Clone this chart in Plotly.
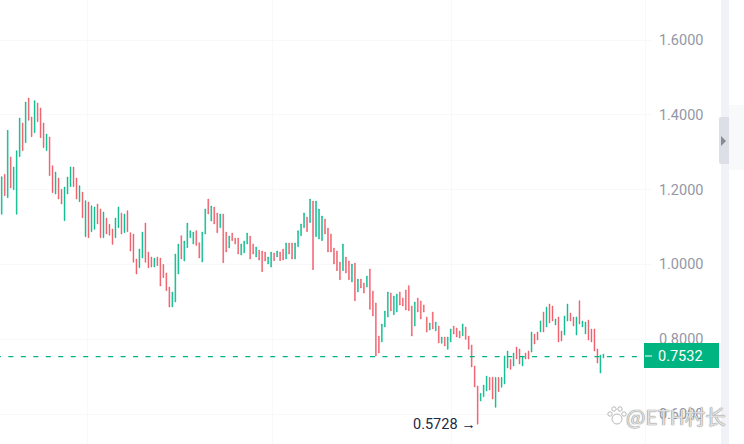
import plotly.graph_objects as go

WIDTH = 744
HEIGHT = 444
PLOT_RIGHT = 645

GREEN = "#02B98A"
RED = "#EE5764"
GRID = "#F8F8FA"
TICK_TEXT = "#9398A6"

highs = [
    1.2346, 1.2408, 1.3585, 1.2872, 1.2604, 1.3041, 1.3914, 1.3781, 1.4342, 1.4449,
    1.3941, 1.4378, 1.4315, 1.4182, 1.3781, 1.3487, 1.3406, 1.2640, 1.2470, 1.2310,
    1.2007, 1.2069, 1.2336, 1.2604, 1.2604, 1.2310, 1.2105, 1.1935, 1.1704, 1.1668,
    1.1570, 1.1534, 1.1615, 1.1481, 1.1401, 1.1240, 1.1071, 1.0946, 1.1240, 1.1534,
    1.1374, 1.1347, 1.1436, 1.0848, 1.0813, 1.0144, 1.0411, 1.0866, 1.1107, 1.0331,
    1.0198, 1.0171, 1.0198, 1.0171, 1.0001, 0.9770, 0.9395, 0.9262, 1.0278, 1.0545,
    1.0768, 1.0625, 1.1107, 1.0902, 1.0866, 1.0902, 1.0581, 1.0866, 1.1481, 1.1748,
    1.1561, 1.1534, 1.1374, 1.1347, 1.1347, 1.0866, 1.0759, 1.0839, 1.0706, 1.0706,
    1.0545, 1.0625, 1.0839, 1.0759, 1.0545, 1.0465, 1.0385, 1.0358, 1.0331, 1.0198,
    1.0331, 1.0305, 1.0358, 1.0331, 1.0411, 1.0572, 1.0572, 1.0572, 1.0572, 1.0902,
    1.1080, 1.1374, 1.1267, 1.1748, 1.1695, 1.1695, 1.1481, 1.1294, 1.1214, 1.0973,
    1.0813, 1.0438, 1.0358, 1.0064, 1.0545, 1.0198, 1.0091, 1.0010, 1.0037, 0.9609,
    0.9609, 0.9502, 0.9690, 0.9877, 0.9288, 0.8968, 0.8085, 0.8406, 0.8754, 0.9262,
    0.9235, 0.9155, 0.9208, 0.9262, 0.9102, 0.9316, 0.9431, 0.8888, 0.8995, 0.9102,
    0.9022, 0.8915, 0.8594, 0.8433, 0.8727, 0.8460, 0.8353, 0.8059, 0.8059, 0.8059,
    0.8273, 0.8353, 0.8300, 0.8219, 0.8407, 0.8326, 0.8086, 0.7845, 0.7284, 0.6749,
    0.6553, 0.6775, 0.7016, 0.6980, 0.6980, 0.6980, 0.6980, 0.6980, 0.7551, 0.7685,
    0.7462, 0.7631, 0.7792, 0.7738, 0.7551, 0.7631, 0.7685, 0.8193, 0.8139, 0.8193,
    0.8487, 0.8727, 0.8861, 0.8941, 0.8888, 0.8540, 0.8594, 0.8219, 0.8621, 0.8941,
    0.8701, 0.8594, 0.8594, 0.9030, 0.8487, 0.8460, 0.8514, 0.8273, 0.8273, 0.7738,
    0.7578, 0.7604,
]
lows = [
    1.1339, 1.1838, 1.1784, 1.2043, 1.1998, 1.1339, 1.2881, 1.3041, 1.3255, 1.3852,
    1.3415, 1.3522, 1.3816, 1.3389, 1.3121, 1.3041, 1.2372, 1.1918, 1.1882, 1.1749,
    1.1615, 1.1169, 1.1882, 1.2078, 1.2078, 1.1749, 1.1677, 1.1249, 1.0741, 1.0714,
    1.0875, 1.0937, 1.1080, 1.0714, 1.0714, 1.0813, 1.0777, 1.0536, 1.0714, 1.0982,
    1.0813, 1.0848, 1.0875, 1.0358, 1.0055, 0.9743, 0.9912, 1.0171, 1.0055, 0.9912,
    0.9930, 0.9930, 0.9966, 0.9422, 0.9645, 0.9297, 0.8861, 0.8861, 0.8994, 0.9743,
    1.0144, 1.0091, 1.0447, 1.0714, 1.0545, 1.0509, 1.0171, 1.0064, 1.0813, 1.1347,
    1.1160, 1.1080, 1.0848, 1.0982, 1.0046, 1.0331, 1.0438, 1.0634, 1.0545, 1.0278,
    1.0251, 1.0305, 1.0545, 1.0144, 1.0278, 1.0198, 1.0117, 0.9805, 1.0091, 1.0010,
    0.9930, 1.0100, 1.0198, 1.0100, 1.0117, 1.0144, 1.0278, 1.0144, 1.0144, 1.0474,
    1.0768, 1.0982, 1.0875, 1.1116, 0.9859, 1.0741, 1.0679, 1.0634, 1.0813, 1.0331,
    1.0331, 1.0010, 0.9832, 0.9591, 0.9832, 0.9770, 0.9591, 0.9529, 0.9030, 0.9262,
    0.9369, 0.9235, 0.9395, 0.8798, 0.8620, 0.7550, 0.7631, 0.7925, 0.8326, 0.8593,
    0.8754, 0.8656, 0.8727, 0.8914, 0.8888, 0.8781, 0.8763, 0.8086, 0.8353, 0.8727,
    0.8540, 0.8727, 0.8193, 0.8246, 0.8273, 0.8219, 0.7899, 0.7890, 0.7818, 0.7729,
    0.7925, 0.8139, 0.8059, 0.8032, 0.8086, 0.7997, 0.7729, 0.7257, 0.6722, 0.5728,
    0.6348, 0.6463, 0.6615, 0.6642, 0.6401, 0.6178, 0.6597, 0.6713, 0.6802, 0.7230,
    0.7194, 0.7284, 0.7471, 0.7337, 0.7284, 0.7471, 0.7471, 0.7658, 0.7872, 0.7979,
    0.8193, 0.8193, 0.8326, 0.8433, 0.8487, 0.8380, 0.7925, 0.7952, 0.8112, 0.8487,
    0.8487, 0.8353, 0.8112, 0.8407, 0.8326, 0.8139, 0.7979, 0.7925, 0.7685, 0.7364,
    0.7096, 0.7498,
]
# G = close above open, R = close below open, ten candles per row
colours = list(
    "GRGRGGGRGR"
    "RGRRRGRRGR"
    "RGGGRRGRGR"
    "GGRRGRRRGG"
    "RGRRRRGGRR"
    "RGRRRRRGGG"
    "RGGGGRRGGR"
    "GRRGRRGRRR"
    "GGGRRGRRRG"
    "GRGRRGRRGG"
    "GGRGRGGGRR"
    "RRRRGRRGRG"
    "RRGRRRRGGG"
    "RGGRRRRRGR"
    "RRRGRGRGRG"
    "GRRRGRRRRR"
    "GGGRRGRGGG"
    "RGRRGRRGRR"
    "GRGRRGRRGG"
    "RRGRGGRRRR"
    "GG"
)

last_price = 0.7532
low_price = 0.5728
low_index = lows.index(low_price)
tick_vals = [0.6, 0.8, 1.0, 1.2, 1.4, 1.6]
tick_text = ["0.6000", "0.8000", "1.0000", "1.2000", "1.4000", "1.6000"]
time_grid = [28.5, 90.6, 150.4]
watermark = "@ETH村长"

index = list(range(len(highs)))
opens = [lo if c == "G" else hi for hi, lo, c in zip(highs, lows, colours)]
closes = [hi if c == "G" else lo for hi, lo, c in zip(highs, lows, colours)]


def px(x):
    return x / PLOT_RIGHT


def py(y):
    return 1 - y / HEIGHT


def rect(x0, y0, x1, y1, color):
    return dict(type="rect", xref="paper", yref="paper", x0=px(x0), x1=px(x1), y0=py(y0), y1=py(y1),
                fillcolor=color, line=dict(width=0), layer="above")


fig = go.Figure()
fig.add_trace(go.Candlestick(
    x=index, open=opens, high=highs, low=lows, close=closes,
    increasing=dict(line=dict(color=GREEN, width=0.5), fillcolor=GREEN),
    decreasing=dict(line=dict(color=RED, width=0.5), fillcolor=RED),
    whiskerwidth=0, showlegend=False,
))

shapes = [
    dict(type="line", xref="paper", yref="y", x0=px(-4.1), x1=1, y0=last_price, y1=last_price,
         line=dict(color="#00B386", width=1.2, dash="5px,7.47px"), layer="above"),
    rect(644, 343, 719, 368, "#00B482"),
    rect(645, 355.5, 652, 356.5, "#FFFFFF"),
    rect(729, 105, 744, 170, "#F8F9FB"),
    rect(721, 0, 729, 444, "#F0F2F7"),
    dict(type="path", xref="paper", yref="paper", layer="above", fillcolor="#DCDFE5", line=dict(width=0),
         path=f"M {px(719)} {py(119)} Q {px(719)} {py(117)} {px(721)} {py(117)} L {px(729)} {py(117)} "
              f"L {px(729)} {py(164)} L {px(721)} {py(164)} Q {px(719)} {py(164)} {px(719)} {py(162)} Z"),
    dict(type="path", xref="paper", yref="paper", layer="above", fillcolor="#858A95", line=dict(width=0),
         path=f"M {px(721)} {py(136)} L {px(726)} {py(141)} L {px(721)} {py(146)} Z"),
]
# baidu paw in the watermark
for cx, cy, r in [(610, 414, 2.2), (614, 409, 2.2), (620, 409, 2.2), (624, 414, 2.2), (617, 419, 5)]:
    shapes.append(dict(type="circle", xref="paper", yref="paper", layer="above",
                       x0=px(cx - r), x1=px(cx + r), y0=py(cy - r), y1=py(cy + r),
                       fillcolor="rgba(255,255,255,0.85)", line=dict(color="#B9B9B9", width=1)))

fig.update_layout(
    width=WIDTH, height=HEIGHT,
    margin=dict(l=0, r=WIDTH - PLOT_RIGHT, t=0, b=0),
    paper_bgcolor="white", plot_bgcolor="white",
    font=dict(family="Roboto", size=14.5, color=TICK_TEXT),
    showlegend=False,
    boxgap=0.6,
    shapes=shapes,
    xaxis=dict(range=[-0.568, 214.9], rangeslider=dict(visible=False), showticklabels=False, ticks="",
               tickvals=time_grid, showgrid=True, gridcolor=GRID, gridwidth=1, zeroline=False),
    yaxis=dict(range=[0.51979, 1.70695], side="right", tickvals=tick_vals, ticktext=tick_text,
               showgrid=True, gridcolor=GRID, gridwidth=1, zeroline=False, showline=True, linecolor=GRID,
               ticks="outside", ticklen=5, tickcolor=GRID, ticklabelstandoff=5,
               tickfont=dict(family="Roboto", size=14.5, color=TICK_TEXT)),
    annotations=[
        dict(x=low_index, y=low_price, xref="x", yref="y", text=f"{low_price} <b>→</b>", showarrow=False,
             xanchor="right", yanchor="middle", xshift=0, font=dict(family="Roboto", size=14.5, color="#1C2A45")),
        dict(x=px(659), y=py(356), xref="paper", yref="paper", text=f"{last_price}", showarrow=False,
             xanchor="left", yanchor="middle", xshift=-3, font=dict(family="Roboto", size=14.5, color="white")),
        dict(x=px(627), y=py(416), xref="paper", yref="paper", text=watermark, showarrow=False,
             xanchor="left", yanchor="middle", xshift=-3,
             font=dict(family="Noto Sans CJK SC", size=20.5, color="rgba(238,238,238,0.9)",
                       shadow="0 0 1px #777, 0 0 1px #777")),
    ],
)

# drop the page's default body margin so the chart fills the window
fig.write_html("out.html", config=dict(displayModeBar=False),
               post_script="document.body.style.margin = '0';")
